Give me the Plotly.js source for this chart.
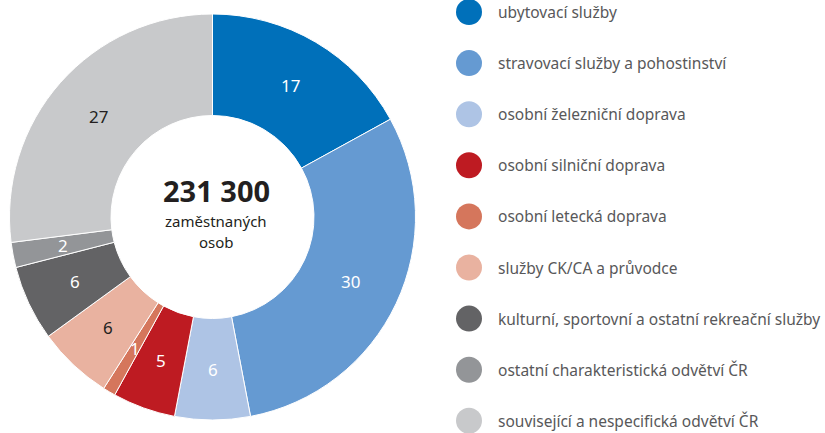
<!DOCTYPE html>
<html>
<head>
<meta charset="utf-8">
<script src="https://cdn.plot.ly/plotly-3.0.1.min.js"></script>
<style>html,body{margin:0;padding:0;background:#fff}#chart{width:825px;height:433px}</style>
</head>
<body>
<div id="chart"></div>
<script>
const categories = [
  "ubytovací služby",
  "stravovací služby a pohostinství",
  "osobní železniční doprava",
  "osobní silniční doprava",
  "osobní letecká doprava",
  "služby CK/CA a průvodce",
  "kulturní, sportovní a ostatní rekreační služby",
  "ostatní charakteristická odvětví ČR",
  "související a nespecifická odvětví ČR"
];
const shares = [17, 30, 6, 5, 1, 6, 6, 2, 27];
const colors = ["#0070ba", "#659ad2", "#aec4e5", "#be1b22", "#d5765c", "#e9b2a0", "#636365", "#939598", "#c8c9cb"];
const textColors = ["#ffffff", "#ffffff", "#ffffff", "#ffffff", "#ffffff", "#231f20", "#ffffff", "#ffffff", "#231f20"];
const totalLabel = "231 300";
const centerLines = ["zaměstnaných", "osob"];

const W = 825, H = 433;
const FONT = "'Noto Sans', Lato, sans-serif";
const CX = 212.5, CY = 217, R = 203, HOLE = 0.5;

const trace = {
  type: "pie",
  labels: categories,
  values: shares,
  textinfo: "none",
  sort: false,
  direction: "clockwise",
  rotation: 0,
  hole: HOLE,
  marker: {colors: colors, line: {color: "#ffffff", width: 1}},
  domain: {x: [(CX - R) / W, (CX + R) / W], y: [(H - CY - R) / H, (H - CY + R) / H]},
  showlegend: false,
  hoverinfo: "label+value"
};

const shapes = [];
const annotations = [];

// slice value labels at mid-ring radius, angle from the cumulative shares
const total = shares.reduce((a, b) => a + b, 0);
const midR = R * (1 + HOLE) / 2;
let cum = 0;
shares.forEach((v, i) => {
  const a = (cum + v / 2) / total * 2 * Math.PI;
  cum += v;
  const px = CX + midR * Math.sin(a);
  const py = CY - midR * Math.cos(a);
  annotations.push({
    xref: "paper", yref: "paper", x: px / W, y: 1 - py / H,
    xanchor: "center", yanchor: "middle", showarrow: false, borderpad: 0,
    text: String(v), font: {family: FONT, size: 17, color: textColors[i]}
  });
});

const legendX = 469, legendY0 = 12, legendStep = 51.1, r = 13;
categories.forEach((c, i) => {
  const cy = legendY0 + i * legendStep;
  shapes.push({
    type: "circle", xref: "paper", yref: "paper",
    x0: (legendX - r) / W, x1: (legendX + r) / W,
    y0: 1 - (cy + r) / H, y1: 1 - (cy - r) / H,
    fillcolor: colors[i], line: {width: 0}
  });
  annotations.push({
    xref: "paper", yref: "paper", x: 497 / W, y: 1 - cy / H,
    xanchor: "left", yanchor: "middle", showarrow: false, borderpad: 0,
    text: c, font: {family: FONT, size: 15.5, color: "#58585a"}
  });
});
annotations.push({
  xref: "paper", yref: "paper", x: 216 / W, y: 1 - 190 / H,
  xanchor: "center", yanchor: "middle", showarrow: false, borderpad: 0,
  text: "<b>" + totalLabel + "</b>", font: {family: FONT, size: 29, color: "#231f20"}
});
centerLines.forEach((t, i) => {
  annotations.push({
    xref: "paper", yref: "paper", x: 216 / W, y: 1 - (221 + i * 21) / H,
    xanchor: "center", yanchor: "middle", showarrow: false, borderpad: 0,
    text: t, font: {family: FONT, size: 15, color: "#231f20"}
  });
});

const layout = {
  width: W, height: H,
  margin: {l: 0, r: 0, t: 0, b: 0},
  paper_bgcolor: "#ffffff",
  showlegend: false,
  shapes: shapes,
  annotations: annotations
};

Plotly.newPlot("chart", [trace], layout, {displayModeBar: false, staticPlot: true});
</script>
</body>
</html>
